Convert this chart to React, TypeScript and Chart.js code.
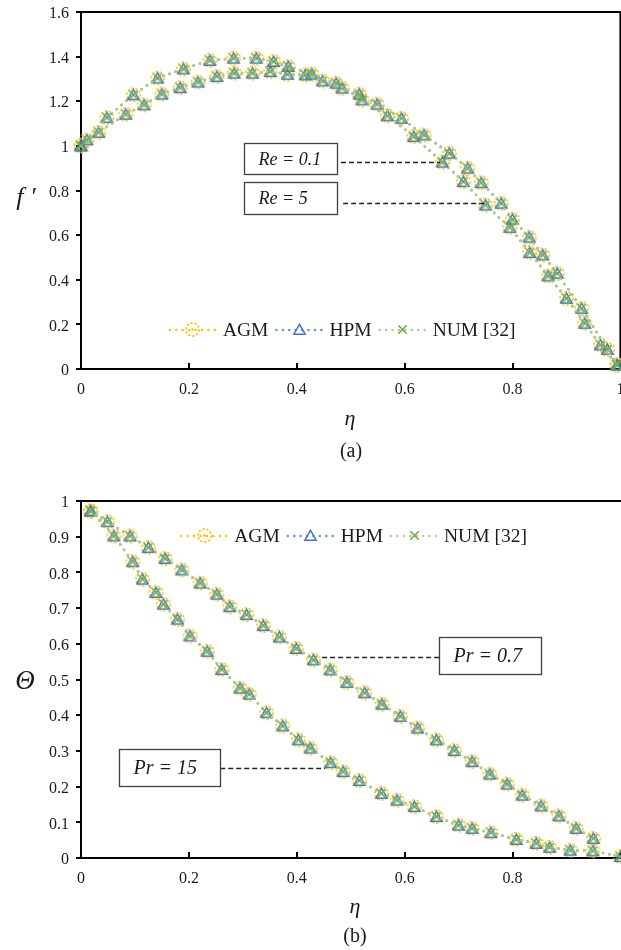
import React, { useEffect, useRef } from 'react';
import { Chart, registerables } from 'chart.js';

Chart.register(...registerables);

// ---------------- Panel (a): velocity profile f' vs eta ----------------
// The AGM, HPM and NUM [32] results coincide in the figure, so each curve
// carries one set of values shared by the three methods.
const etaRe01 = [0, 0.011, 0.048, 0.097, 0.142, 0.19, 0.239, 0.283, 0.325, 0.357, 0.384, 0.428, 0.473, 0.521, 0.568, 0.617, 0.67, 0.709, 0.75, 0.795, 0.832, 0.866, 0.9, 0.934, 0.963, 0.994];
const fpRe01 = [1.0, 1.027, 1.127, 1.229, 1.304, 1.345, 1.383, 1.393, 1.393, 1.378, 1.356, 1.322, 1.281, 1.206, 1.135, 1.042, 0.927, 0.84, 0.735, 0.635, 0.522, 0.417, 0.317, 0.205, 0.108, 0.018];

const etaRe5 = [0, 0.033, 0.083, 0.117, 0.15, 0.184, 0.217, 0.252, 0.284, 0.318, 0.351, 0.383, 0.416, 0.448, 0.484, 0.516, 0.549, 0.594, 0.636, 0.683, 0.717, 0.742, 0.779, 0.8, 0.831, 0.856, 0.883, 0.928, 0.976, 0.994];
const fpRe5 = [1.0, 1.061, 1.142, 1.184, 1.232, 1.261, 1.286, 1.311, 1.326, 1.326, 1.333, 1.321, 1.318, 1.291, 1.259, 1.232, 1.187, 1.124, 1.049, 0.967, 0.9, 0.835, 0.743, 0.671, 0.591, 0.511, 0.429, 0.272, 0.088, 0.018];

// ---------------- Panel (b): temperature profile theta vs eta ----------------
const etaPr07 = [0.018, 0.049, 0.091, 0.125, 0.156, 0.187, 0.221, 0.252, 0.276, 0.307, 0.338, 0.368, 0.399, 0.431, 0.462, 0.493, 0.526, 0.558, 0.592, 0.624, 0.659, 0.692, 0.725, 0.758, 0.79, 0.818, 0.853, 0.886, 0.918, 0.95];
const thPr07 = [0.972, 0.942, 0.902, 0.87, 0.839, 0.807, 0.77, 0.739, 0.704, 0.682, 0.651, 0.619, 0.587, 0.555, 0.527, 0.492, 0.463, 0.431, 0.397, 0.364, 0.331, 0.301, 0.27, 0.235, 0.207, 0.176, 0.146, 0.118, 0.083, 0.055];

const etaPr15 = [0.018, 0.061, 0.096, 0.114, 0.139, 0.153, 0.179, 0.202, 0.234, 0.261, 0.295, 0.312, 0.344, 0.374, 0.403, 0.425, 0.463, 0.486, 0.516, 0.557, 0.586, 0.618, 0.659, 0.7, 0.725, 0.76, 0.807, 0.844, 0.869, 0.907, 0.949, 1.0];
const thPr15 = [0.972, 0.902, 0.83, 0.781, 0.744, 0.711, 0.669, 0.622, 0.579, 0.528, 0.476, 0.459, 0.407, 0.37, 0.331, 0.308, 0.267, 0.242, 0.217, 0.181, 0.162, 0.144, 0.116, 0.092, 0.083, 0.071, 0.052, 0.041, 0.03, 0.022, 0.02, 0.004];

const methodLabels = ['AGM', 'HPM', 'NUM [32]'];

// ---------------- styling / layout (not data) ----------------
const SERIF = '"Liberation Serif", "Times New Roman", serif';
const LINE_COLORS = ['#FFC000', '#5B9BD5', '#A9D18E'];
const TEXT = '#1a1a1a';
const CANVAS_W = 630;

type Ann = { text: string; x0: number; x1: number; y0: number; y1: number; ly: number; lx0: number; lx1: number; size: number };

const annotationsA: Ann[] = [
  { text: 'Re = 0.1', x0: 0.302, x1: 0.475, y0: 1.013, y1: 0.874, ly: 0.928, lx0: 0.482, lx1: 0.666, size: 18 },
  { text: 'Re = 5', x0: 0.302, x1: 0.475, y0: 0.839, y1: 0.695, ly: 0.744, lx0: 0.486, lx1: 0.748, size: 18 },
];
const annotationsB: Ann[] = [
  { text: 'Pr = 0.7', x0: 0.664, x1: 0.853, y0: 0.619, y1: 0.515, ly: 0.563, lx0: 0.447, lx1: 0.664, size: 20 },
  { text: 'Pr = 15', x0: 0.0705, x1: 0.258, y0: 0.305, y1: 0.202, ly: 0.252, lx0: 0.258, lx1: 0.453, size: 20 },
];

function makeMarkers(): HTMLCanvasElement[] {
  const circle = document.createElement('canvas');
  circle.width = 17; circle.height = 17;
  let g = circle.getContext('2d')!;
  g.strokeStyle = '#FFC000'; g.lineWidth = 1.6; g.setLineDash([2.4, 1.7]);
  g.beginPath(); g.arc(8.5, 8.5, 6.6, 0, Math.PI * 2); g.stroke();
  g.setLineDash([]); g.fillStyle = '#FFC000';
  g.beginPath(); g.arc(8.5, 8.5, 1.3, 0, Math.PI * 2); g.fill();

  const tri = document.createElement('canvas');
  tri.width = 15; tri.height = 15;
  g = tri.getContext('2d')!;
  g.strokeStyle = '#4472C4'; g.lineWidth = 1.5; g.lineJoin = 'miter';
  g.beginPath(); g.moveTo(7.5, 2.3); g.lineTo(1.8, 12.2); g.lineTo(13.2, 12.2); g.closePath(); g.stroke();

  const cross = document.createElement('canvas');
  cross.width = 13; cross.height = 13;
  g = cross.getContext('2d')!;
  g.strokeStyle = '#70AD47'; g.lineWidth = 1.6;
  g.beginPath(); g.moveTo(2.3, 2.3); g.lineTo(10.7, 10.7); g.moveTo(10.7, 2.3); g.lineTo(2.3, 10.7); g.stroke();
  return [circle, tri, cross];
}

const fmt = (v: number) => String(Math.round(v * 10) / 10);

type PanelSpec = {
  height: number;
  curves: { eta: number[]; vals: number[] }[];
  yMax: number;
  yStep: number;
  hideXMax: boolean;
  rightBorder: boolean;
  annotations: Ann[];
  legendAt: { x: number; y: number };
  yTitle: { text: string; x: number; y: number; size: number };
  xTitle: { x: number; y: number };
  caption: { text: string; x: number; y: number };
};

const decorPlugin = {
  id: 'decor',
  beforeDatasetsDraw(chart: any, _a: any, o: any) {
    const { ctx, chartArea: a, scales } = chart;
    const spec: PanelSpec = o.spec;
    const x = scales.x, y = scales.y;
    ctx.save();
    ctx.strokeStyle = '#000';
    ctx.lineWidth = 2;
    ctx.beginPath();
    ctx.moveTo(a.left, a.bottom);
    ctx.lineTo(a.left, a.top);
    ctx.lineTo(a.right + (spec.rightBorder ? 0 : 4), a.top);
    if (spec.rightBorder) ctx.lineTo(a.right, a.bottom);
    else ctx.moveTo(a.right + 4, a.bottom);
    ctx.lineTo(a.left, a.bottom);
    ctx.stroke();
    ctx.beginPath();
    y.ticks.forEach((t: any) => {
      const py = Math.round(y.getPixelForValue(t.value));
      ctx.moveTo(a.left - 5, py); ctx.lineTo(a.left, py);
    });
    x.ticks.forEach((t: any) => {
      const px = Math.round(x.getPixelForValue(t.value));
      ctx.moveTo(px, a.bottom); ctx.lineTo(px, a.bottom - 6);
    });
    ctx.stroke();
    ctx.restore();
  },
  afterDatasetsDraw(chart: any, _a: any, o: any) {
    const { ctx, scales } = chart;
    const x = scales.x, y = scales.y;
    const spec: PanelSpec = o.spec;
    const markers: HTMLCanvasElement[] = o.markers;
    ctx.save();
    // annotation boxes with dashed leader lines
    spec.annotations.forEach((an) => {
      const ly = Math.round(y.getPixelForValue(an.ly)) + 0.5;
      ctx.strokeStyle = '#222';
      ctx.lineWidth = 1.3;
      ctx.setLineDash([5, 3]);
      ctx.beginPath();
      ctx.moveTo(x.getPixelForValue(an.lx0), ly);
      ctx.lineTo(x.getPixelForValue(an.lx1), ly);
      ctx.stroke();
      ctx.setLineDash([]);
      const bx0 = Math.round(x.getPixelForValue(an.x0)) + 0.5;
      const bx1 = Math.round(x.getPixelForValue(an.x1)) + 0.5;
      const by0 = Math.round(y.getPixelForValue(an.y0)) + 0.5;
      const by1 = Math.round(y.getPixelForValue(an.y1)) + 0.5;
      ctx.fillStyle = '#fff';
      ctx.fillRect(bx0, by0, bx1 - bx0, by1 - by0);
      ctx.strokeStyle = '#404040';
      ctx.lineWidth = 1.3;
      ctx.strokeRect(bx0, by0, bx1 - bx0, by1 - by0);
      ctx.fillStyle = TEXT;
      ctx.font = `italic ${an.size}px ${SERIF}`;
      ctx.textAlign = 'left';
      ctx.textBaseline = 'middle';
      ctx.fillText(an.text, bx0 + 14, (by0 + by1) / 2 + 1);
    });
    // legend
    let lx = x.getPixelForValue(spec.legendAt.x);
    const lyy = y.getPixelForValue(spec.legendAt.y);
    ctx.font = `19.5px ${SERIF}`;
    ctx.textBaseline = 'middle';
    ctx.textAlign = 'left';
    methodLabels.forEach((lab, i) => {
      ctx.strokeStyle = LINE_COLORS[i];
      ctx.lineWidth = 2.6;
      ctx.lineCap = 'round';
      ctx.setLineDash([0.01, 6.4]);
      ctx.beginPath();
      ctx.moveTo(lx + 1, lyy); ctx.lineTo(lx + 48, lyy);
      ctx.stroke();
      ctx.setLineDash([]);
      const m = markers[i];
      ctx.drawImage(m, Math.round(lx + 24 - m.width / 2), Math.round(lyy - m.height / 2));
      ctx.fillStyle = TEXT;
      ctx.fillText(lab, lx + 54, lyy + 1);
      lx += 54 + ctx.measureText(lab).width + 7;
    });
    ctx.restore();
  },
  afterDraw(chart: any, _a: any, o: any) {
    const { ctx } = chart;
    const spec: PanelSpec = o.spec;
    ctx.save();
    ctx.fillStyle = TEXT;
    ctx.textAlign = 'center';
    ctx.textBaseline = 'middle';
    ctx.font = `italic ${spec.yTitle.size}px ${SERIF}`;
    ctx.fillText(spec.yTitle.text, spec.yTitle.x, spec.yTitle.y);
    ctx.font = `italic 22px ${SERIF}`;
    ctx.fillText('η', spec.xTitle.x, spec.xTitle.y);
    ctx.font = `20px ${SERIF}`;
    ctx.fillText(spec.caption.text, spec.caption.x, spec.caption.y);
    ctx.restore();
  },
};

function buildConfig(spec: PanelSpec, markers: HTMLCanvasElement[]): any {
  const datasets: any[] = [];
  spec.curves.forEach((c) => {
    methodLabels.forEach((lab, i) => {
      datasets.push({
        label: lab,
        data: c.eta.map((e, k) => ({ x: e, y: c.vals[k] })),
        showLine: true,
        borderColor: LINE_COLORS[i],
        backgroundColor: LINE_COLORS[i],
        borderWidth: 2.6,
        borderDash: [0.01, 6.4],
        borderCapStyle: 'round',
        pointStyle: markers[i],
        pointRadius: 7,
        pointHoverRadius: 7,
        tension: 0,
        fill: false,
        clip: false,
        order: 3 - i,
      });
    });
  });
  const zeroPad = (s: any) => { s.paddingLeft = 0; s.paddingRight = 0; s.paddingTop = 0; s.paddingBottom = 0; };
  return {
    type: 'scatter',
    data: { datasets },
    options: {
      responsive: false,
      animation: false,
      devicePixelRatio: 1,
      events: [],
      layout: { padding: { top: 12, right: 1, left: 0, bottom: 0 } },
      plugins: {
        legend: { display: false },
        tooltip: { enabled: false },
        decor: { spec, markers },
      },
      scales: {
        x: {
          type: 'linear', min: 0, max: 1,
          border: { display: false },
          grid: { display: false, drawTicks: false },
          ticks: {
            stepSize: 0.2, autoSkip: false, maxRotation: 0, padding: 11,
            color: TEXT, font: { family: SERIF, size: 16 },
            callback: (v: number) => (spec.hideXMax && v >= 1 ? '' : fmt(v)),
          },
          afterFit: (s: any) => { s.height = spec.height - 369; zeroPad(s); },
        },
        y: {
          type: 'linear', min: 0, max: spec.yMax,
          border: { display: false },
          grid: { display: false, drawTicks: false },
          ticks: {
            stepSize: spec.yStep, autoSkip: false, padding: 12, labelOffset: 2,
            color: TEXT, font: { family: SERIF, size: 16 },
            callback: (v: number) => fmt(v),
          },
          afterFit: (s: any) => { s.width = 81; zeroPad(s); },
        },
      },
    },
    plugins: [decorPlugin],
  };
}

const specA: PanelSpec = {
  height: 489,
  curves: [{ eta: etaRe01, vals: fpRe01 }, { eta: etaRe5, vals: fpRe5 }],
  yMax: 1.6, yStep: 0.2, hideXMax: false, rightBorder: true,
  annotations: annotationsA,
  legendAt: { x: 0.163, y: 0.175 },
  yTitle: { text: 'f ′', x: 26, y: 198, size: 26 },
  xTitle: { x: 350, y: 419 },
  caption: { text: '(a)', x: 351, y: 452 },
};

const specB: PanelSpec = {
  height: 461,
  curves: [{ eta: etaPr07, vals: thPr07 }, { eta: etaPr15, vals: thPr15 }],
  yMax: 1, yStep: 0.1, hideXMax: true, rightBorder: false,
  annotations: annotationsB,
  legendAt: { x: 0.184, y: 0.902 },
  yTitle: { text: 'Θ', x: 25, y: 193, size: 27 },
  xTitle: { x: 355, y: 418 },
  caption: { text: '(b)', x: 355, y: 448 },
};

function Panel({ spec, top }: { spec: PanelSpec; top: number }) {
  const ref = useRef<HTMLCanvasElement>(null);
  useEffect(() => {
    const chart = new Chart(ref.current as HTMLCanvasElement, buildConfig(spec, makeMarkers()));
    return () => chart.destroy();
  }, []);
  return (
    <canvas
      ref={ref}
      width={CANVAS_W}
      height={spec.height}
      style={{ position: 'absolute', left: 0, top, width: CANVAS_W, height: spec.height }}
    />
  );
}

export default function App() {
  return (
    <div style={{ position: 'absolute', left: 0, top: 0, width: 621, height: 950, overflow: 'hidden', background: '#fff' }}>
      <Panel spec={specA} top={0} />
      <Panel spec={specB} top={489} />
    </div>
  );
}
